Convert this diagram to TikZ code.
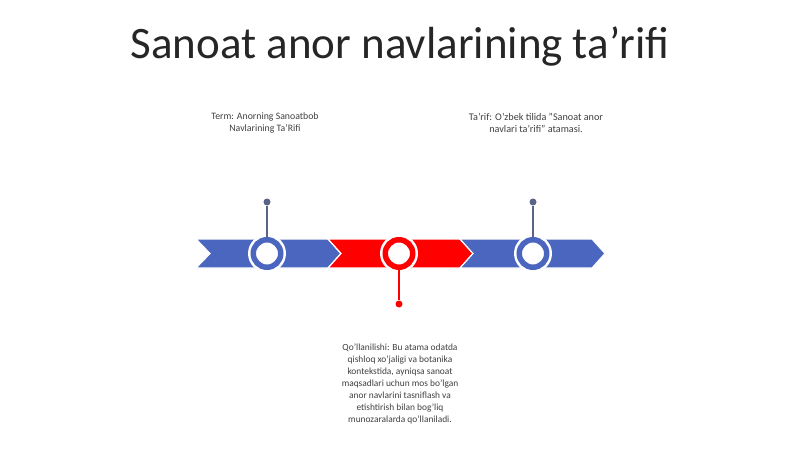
\documentclass[tikz,border=0pt]{standalone}
\usepackage{fontspec}
\setmainfont{Carlito}
\definecolor{cblue}{HTML}{4A66BF}
\definecolor{cred}{HTML}{FF0000}
\definecolor{cstem}{HTML}{5A6488}
\definecolor{ctext}{HTML}{404040}
\definecolor{ctitle}{HTML}{262626}
\begin{document}
\begin{tikzpicture}[x=1pt,y=-1pt,
  seg/.style={draw=white,line width=1.2pt,line join=miter},
  halo/.style={circle,fill=white,minimum size=38pt,inner sep=0pt},
  ring/.style={circle,fill=white,draw=#1,line width=5.5pt,minimum size=27.5pt,inner sep=0pt},
  dotn/.style={circle,fill=#1,minimum size=7pt,inner sep=0pt},
  stem/.style={draw=#1,line width=1.3pt},
  small/.style={text=ctext,font=\fontsize{9.8}{12.8}\selectfont,align=center}]
\useasboundingbox (0,0) rectangle (800,449);
\fill[white] (0,0) rectangle (800,449);
\node[text=ctitle,font=\fontsize{45}{50}\selectfont] (title) at (400,47) {Sanoat anor navlarining ta’rifi};
% chevrons
\def\top{239}\def\bot{268}\def\mid{253.5}
\filldraw[seg,fill=cblue] (196,\top) -- (328,\top) -- (341,\mid) -- (328,\bot) -- (196,\bot) -- (210,\mid) -- cycle;
\filldraw[seg,fill=cred] (328,\top) -- (460,\top) -- (473,\mid) -- (460,\bot) -- (328,\bot) -- (341,\mid) -- cycle;
\filldraw[seg,fill=cblue] (460,\top) -- (592,\top) -- (605,\mid) -- (592,\bot) -- (460,\bot) -- (473,\mid) -- cycle;
% circles
\node[halo] at (267,253.5) {};
\node[halo] at (399,253.5) {};
\node[halo] at (533,253.5) {};
\node[ring=cblue] (c1) at (267,253.5) {};
\node[ring=cred] (c2) at (399,253.5) {};
\node[ring=cblue] (c3) at (533,253.5) {};
% dots and stems
\node[dotn=cstem] (d1) at (267,202) {};
\node[dotn=cred] (d2) at (399,304) {};
\node[dotn=cstem] (d3) at (533,202) {};
\draw[stem=cstem] (d1) -- (c1.north);
\draw[stem=cred] (c2.south) -- (d2);
\draw[stem=cstem] (d3) -- (c3.north);
% texts
\node[small] (t1) at (265,123) {Term: Anorning Sanoatbob\\Navlarining Ta'Rifi};
\node[small,font=\fontsize{10.2}{12.8}\selectfont] (t3) at (536,123) {Ta'rif: O'zbek tilida "Sanoat anor\\navlari ta'rifi" atamasi.};
\node[small,font=\fontsize{9.4}{12}\selectfont] (t2) at (400,384) {Qo'llanilishi: Bu atama odatda\\qishloq xo'jaligi va botanika\\kontekstida, ayniqsa sanoat\\maqsadlari uchun mos bo'lgan\\anor navlarini tasniflash va\\etishtirish bilan bog'liq\\munozaralarda qo'llaniladi.};
\end{tikzpicture}
\end{document}
